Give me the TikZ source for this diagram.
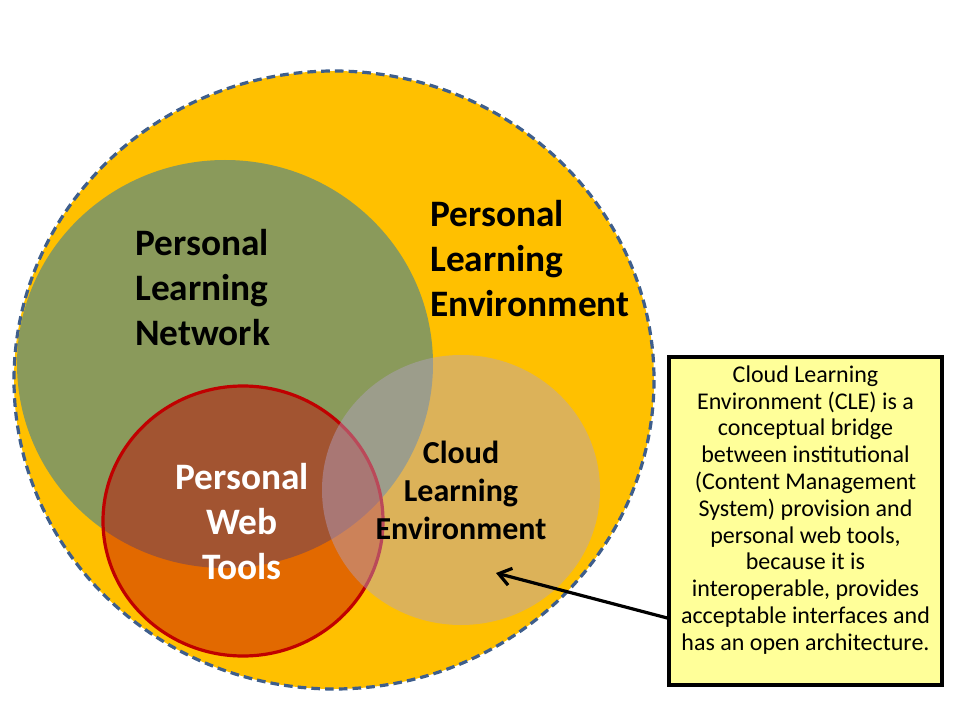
\documentclass[tikz,border=0pt]{standalone}
\usepackage{fontspec}
\setmainfont{Carlito}
\usepackage{xcolor}
\usepackage{tikz}
\usetikzlibrary{shapes.geometric, positioning, arrows.meta}
\definecolor{pleyellow}{RGB}{255,192,0}
\definecolor{pleborder}{RGB}{62,94,140}
\definecolor{plngreen}{RGB}{138,154,91}
\definecolor{pwtred}{RGB}{192,0,0}
\definecolor{clelilac}{RGB}{179,162,199}
\definecolor{notefill}{RGB}{255,255,153}
\tikzstyle{venntext} = [inner sep=0pt, font=\bfseries\fontsize{28}{33.75}\selectfont]
\tikzstyle{cletext} = [inner sep=0pt, align=center, font=\bfseries\fontsize{24}{28.5}\selectfont]
\tikzstyle{notebox} = [rectangle, minimum width=204.75pt, minimum height=246pt, draw=black, line width=2.6pt, fill=notefill]
\tikzstyle{notetext} = [inner sep=0pt, align=center, font=\fontsize{18}{20.1}\selectfont]

\begin{document}
\begin{tikzpicture}[x=0.75pt, y=-0.75pt]
		\useasboundingbox (0,0) rectangle (960,720);
		% the four circles
		\draw [fill=pleyellow, draw=pleborder, line width=2.4pt, dash pattern=on 6.5pt off 3.8pt] (334,380) ellipse [x radius=320, y radius=309];
		\fill [plngreen] (225,364) ellipse [x radius=208, y radius=204];
		\draw [fill=pwtred, fill opacity=0.45, draw=pwtred, line width=2.4pt] (243,521) ellipse [x radius=140, y radius=135];
		\fill [clelilac, fill opacity=0.45] (461,490) ellipse [x radius=139, y radius=135];
		% labels
		\node (PLN)[venntext, anchor=west, align=left] at (135,288) {Personal\\Learning\\Network};
		\node (PLE)[venntext, anchor=west, align=left] at (430,259) {Personal\\Learning\\Environment};
		\node (PWT)[venntext, align=center, text=white] at (242,522) {Personal\\Web\\Tools};
		\node (CLE)[cletext] at (461,490) {Cloud\\Learning\\Environment};
		% note
		\node (CLE box)[notebox] at (805.5,521) {};
		\node (CLE note)[notetext, below=7.5pt of CLE box.north] {Cloud Learning\\Environment (CLE) is a\\conceptual bridge\\between institutional\\(Content Management\\System) provision and\\personal web tools,\\because it is\\interoperable, provides\\acceptable interfaces and\\has an open architecture.};
		\coordinate (CLE tip) at (496,573);
		\draw [-{Straight Barb[length=9pt, width=13pt]}, line width=2.4pt] ([yshift=-72.75pt]CLE box.west) -- (CLE tip);
	\end{tikzpicture}
\end{document}
